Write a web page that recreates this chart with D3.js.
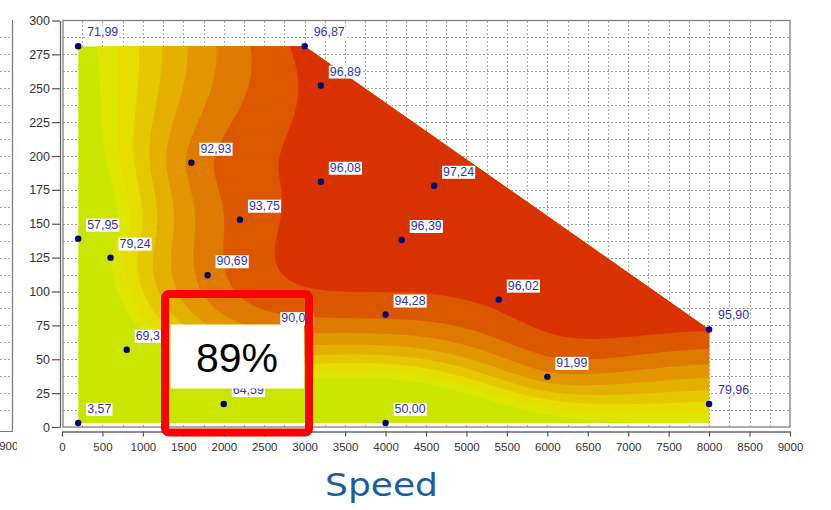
<!DOCTYPE html>
<html>
<head>
<meta charset="utf-8">
<script src="https://cdn.jsdelivr.net/npm/d3@7"></script>
<style>
  html, body { margin: 0; padding: 0; background: #fff; }
  svg { display: block; }
</style>
</head>
<body>
<svg id="chart" width="831" height="510"></svg>
<script>
// Measured operating points: speed (rpm), torque (Nm), efficiency (%)
const speed      = [200,   3000,  3200,  1600,  3200,  4600,  2200,  200,   600,   1800,  4200,  800,   2600,  4000,  5400,  2000,  6000,  8000,  8000,  200,  4000];
const torque     = [281,   281,   252,   195,   181,   178,   153,   139,   125,   112,   138,   57,    70,    83,    94,    17,    37,    72,    17,    3,    3];
const efficiency = [71.99, 96.87, 96.89, 92.93, 96.08, 97.24, 93.75, 57.95, 79.24, 90.69, 96.39, 69.31, 90.01, 94.28, 96.02, 64.59, 91.99, 95.90, 79.96, 3.57, 50.00];

// Outline of the measured operating region
const boundarySpeed  = [200, 3000, 8000, 8000, 200];
const boundaryTorque = [281, 281,  72,   3,    3];

// Efficiency contour levels and band colours (lowest band first)
const levels     = [75, 78, 81, 84, 87, 90, 93, 96];
const bandColors = ["#cae600", "#dce600", "#e5dc00", "#e6c800", "#e4b000", "#e29600", "#df7a00", "#db5800", "#d83200"];

// Axis ticks
const speedTicks  = [0, 500, 1000, 1500, 2000, 2500, 3000, 3500, 4000, 4500, 5000, 5500, 6000, 6500, 7000, 7500, 8000, 8500, 9000];
const torqueTicks = [0, 25, 50, 75, 100, 125, 150, 175, 200, 225, 250, 275, 300];

const axisTitle = "Speed";
const highlightText = "89%";

// Surface smoothing (thin-plate spline regularisation, unit-square coordinates)
const smoothing = 0.02;

const svg = d3.select("#chart");
const x = d3.scaleLinear().domain([0, 9000]).range([62, 790]);
const y = d3.scaleLinear().domain([0, 300]).range([427, 20.5]);
const axisFont = "'Liberation Sans', Arial, sans-serif";

// ---- neighbouring panel edge (left) ----
const leftPanel = svg.append("g");
leftPanel.selectAll("line.lg")
  .data(d3.range(12.5, 300, 12.5))
  .join("line")
  .attr("x1", 0).attr("x2", 11)
  .attr("y1", d => Math.round(y(d)) + 0.5).attr("y2", d => Math.round(y(d)) + 0.5)
  .attr("stroke", "#a8a8a8").attr("stroke-dasharray", "2,2");
leftPanel.append("line").attr("x1", 12.5).attr("x2", 12.5).attr("y1", 20).attr("y2", 431.5)
  .attr("stroke", "#777").attr("stroke-width", 1.2);
leftPanel.append("line").attr("x1", 0).attr("x2", 12.5).attr("y1", 431.5).attr("y2", 431.5)
  .attr("stroke", "#777");
svg.append("clipPath").attr("id", "leftClip").append("rect").attr("x", 0).attr("y", 430).attr("width", 17).attr("height", 30);
leftPanel.append("text").attr("clip-path", "url(#leftClip)")
  .attr("x", 12).attr("y", 450).attr("text-anchor", "middle")
  .attr("font-family", axisFont).attr("font-size", 11.5).attr("fill", "#333")
  .text("9000");

// ---- grid ----
const grid = svg.append("g");
grid.selectAll("line.h")
  .data(d3.range(12.5, 300, 12.5))
  .join("line")
  .attr("x1", 63).attr("x2", 790)
  .attr("y1", d => Math.round(y(d)) + 0.5).attr("y2", d => Math.round(y(d)) + 0.5)
  .attr("stroke", "#a0a0a0").attr("stroke-dasharray", "2,2");
grid.selectAll("line.v")
  .data(d3.range(250, 9000, 250))
  .join("line")
  .attr("x1", d => Math.round(x(d)) + 0.5).attr("x2", d => Math.round(x(d)) + 0.5)
  .attr("y1", 21).attr("y2", 427)
  .attr("stroke", "#a8a8a8").attr("stroke-dasharray", "2,2");

// ---- efficiency field: smoothing thin-plate spline in normalised speed/torque ----
const sExt = d3.extent(boundarySpeed), tExt = d3.extent(boundaryTorque);
const nu = s => (s - sExt[0]) / (sExt[1] - sExt[0]);
const nv = t => (t - tExt[0]) / (tExt[1] - tExt[0]);
const pu = speed.map(nu);
const pv = torque.map(nv);
const n = speed.length;
const N = n + 3;
const phi = r2 => r2 > 0 ? 0.5 * r2 * Math.log(r2) : 0;
const A = Array.from({ length: N }, () => new Float64Array(N + 1));
for (let i = 0; i < n; i++) {
  for (let j = 0; j < n; j++) {
    const du = pu[i] - pu[j], dv = pv[i] - pv[j];
    A[i][j] = phi(du * du + dv * dv);
  }
  A[i][i] += smoothing;
  A[i][n] = 1; A[i][n + 1] = pu[i]; A[i][n + 2] = pv[i];
  A[n][i] = 1; A[n + 1][i] = pu[i]; A[n + 2][i] = pv[i];
  A[i][N] = efficiency[i];
}
for (let c = 0; c < N; c++) {
  let p = c;
  for (let r = c + 1; r < N; r++) if (Math.abs(A[r][c]) > Math.abs(A[p][c])) p = r;
  [A[c], A[p]] = [A[p], A[c]];
  for (let r = 0; r < N; r++) {
    if (r === c) continue;
    const f = A[r][c] / A[c][c];
    if (f === 0) continue;
    for (let k = c; k <= N; k++) A[r][k] -= f * A[c][k];
  }
}
const coef = A.map((row, i) => row[N] / row[i]);
function field(s, t) {
  const u = nu(s), v = nv(t);
  let f = coef[n] + coef[n + 1] * u + coef[n + 2] * v;
  for (let i = 0; i < n; i++) {
    const du = u - pu[i], dv = v - pv[i];
    f += coef[i] * phi(du * du + dv * dv);
  }
  return f;
}

const step = 2;
const gx0 = x(sExt[0]) - 6, gx1 = x(sExt[1]) + 6;
const gy0 = y(tExt[1]) - 6, gy1 = y(tExt[0]) + 6;
const nx = Math.ceil((gx1 - gx0) / step) + 1;
const ny = Math.ceil((gy1 - gy0) / step) + 1;
const values = new Float64Array(nx * ny);
for (let j = 0; j < ny; j++)
  for (let i = 0; i < nx; i++)
    values[j * nx + i] = field(x.invert(gx0 + i * step), y.invert(gy0 + j * step));

const contourPath = d3.geoPath(d3.geoTransform({
  point(cx, cy) { this.stream.point(gx0 + (cx - 0.5) * step, gy0 + (cy - 0.5) * step); }
}));

const regionPts = boundarySpeed.map((s, i) => [x(s), y(boundaryTorque[i])]);
svg.append("clipPath").attr("id", "region")
  .append("path").attr("d", d3.line()(regionPts) + "Z");

const bands = svg.append("g").attr("clip-path", "url(#region)");
bands.append("path").attr("d", d3.line()(regionPts) + "Z").attr("fill", bandColors[0]);
const contours = d3.contours().size([nx, ny]).thresholds(levels)(values);
bands.selectAll("path.band")
  .data(contours)
  .join("path")
  .attr("class", "band")
  .attr("d", contourPath)
  .attr("fill", (d, i) => bandColors[i + 1]);

// ---- frame ----
svg.append("rect").attr("x", 63).attr("y", 20.5).attr("width", 727).attr("height", 406.5)
  .attr("fill", "none").attr("stroke", "#808080").attr("stroke-width", 1.3);

// ---- axes ----
const yAxis = svg.append("g").attr("transform", "translate(60,0)")
  .call(d3.axisLeft(y).tickValues(torqueTicks).tickSize(8).tickSizeOuter(0).tickPadding(2).tickFormat(d3.format("d")));
const xAxis = svg.append("g").attr("transform", "translate(0,431.5)")
  .call(d3.axisBottom(x).tickValues(speedTicks).tickSize(5).tickSizeOuter(0).tickPadding(6).tickFormat(d3.format("d")));
[yAxis, xAxis].forEach(g => {
  g.selectAll("path.domain").attr("stroke", "#666").attr("stroke-width", 1.3);
  g.selectAll(".tick line").attr("stroke", "#555").attr("stroke-width", 1.2);
  g.selectAll(".tick text").attr("fill", "#333").attr("font-family", axisFont);
});
yAxis.selectAll(".tick text").attr("font-size", 12.5);
xAxis.selectAll(".tick text").attr("font-size", 11.5);

// ---- measured points and value labels ----
svg.append("g").selectAll("circle")
  .data(d3.range(n))
  .join("circle")
  .attr("cx", i => x(speed[i])).attr("cy", i => y(torque[i]))
  .attr("r", 3.2).attr("fill", "#00007a");

const labelG = svg.append("g");
d3.range(n).forEach(i => {
  const g = labelG.append("g");
  const bg = g.append("rect").attr("fill", "#fff");
  const t = g.append("text")
    .attr("x", x(speed[i]) + 9).attr("y", y(torque[i]) - 10)
    .attr("font-family", axisFont).attr("font-size", 12.4).attr("fill", "#3434a6")
    .text(efficiency[i].toFixed(2).replace(".", ","));
  const b = t.node().getBBox();
  bg.attr("x", b.x - 1).attr("y", b.y + 1).attr("width", b.width + 2).attr("height", b.height - 1);
});

// ---- highlight callout ----
svg.append("rect").attr("x", 170.5).attr("y", 324.5).attr("width", 133.5).attr("height", 64).attr("fill", "#fff");
svg.append("text").attr("x", 237).attr("y", 372).attr("text-anchor", "middle")
  .attr("font-family", axisFont).attr("font-size", 41).attr("fill", "#000")
  .text(highlightText);
svg.append("rect").attr("x", 165).attr("y", 294).attr("width", 144).attr("height", 138.5).attr("rx", 4)
  .attr("fill", "none").attr("stroke", "#ff0000").attr("stroke-width", 8);

// ---- axis title ----
svg.append("text").attr("x", 381.5).attr("y", 496).attr("text-anchor", "middle")
  .attr("font-family", "'DejaVu Sans', Verdana, sans-serif").attr("font-size", 32)
  .attr("textLength", 113).attr("lengthAdjust", "spacingAndGlyphs")
  .attr("fill", "#1b5e9f")
  .text(axisTitle);
</script>
</body>
</html>
